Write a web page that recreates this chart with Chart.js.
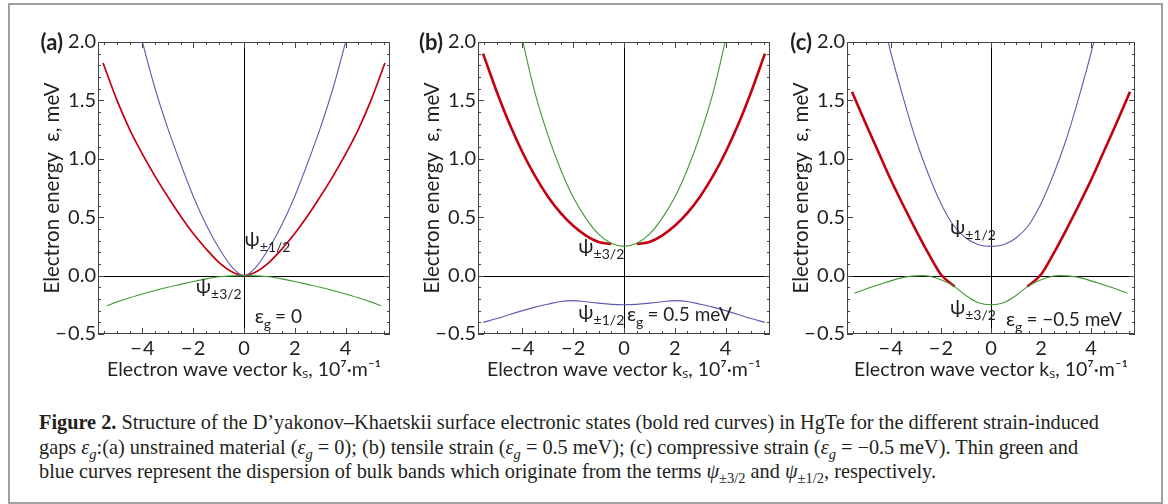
<!DOCTYPE html>
<html>
<head>
<meta charset="utf-8">
<script src="https://cdn.jsdelivr.net/npm/chart.js@4.4.0/dist/chart.umd.min.js"></script>
<style>
  html, body { margin: 0; padding: 0; background: #fff; }
  body { width: 1168px; height: 504px; position: relative; overflow: hidden; }
  #frame { position: absolute; left: 8px; top: 3px; width: 1151px; height: 497px; border: 2px solid #a0a0a0; }
  canvas { position: absolute; }
  #caption { position: absolute; left: 39px; top: 410px; font-family: "Liberation Serif", serif; font-size: 20.3px; line-height: 24.5px; color: #231f20; white-space: nowrap; }
  #caption i { font-family: "Liberation Serif", serif; }
  #caption sub { font-size: 14.5px; line-height: 0; }
</style>
</head>
<body>
<div id="frame"></div>
<canvas id="chartA" width="378" height="368" style="left:20px;top:22px"></canvas>
<canvas id="chartB" width="378" height="368" style="left:400px;top:22px"></canvas>
<canvas id="chartC" width="374" height="368" style="left:769px;top:22px"></canvas>
<div id="caption">
<b>Figure 2.</b> Structure of the D’yakonov–Khaetskii surface electronic states (bold red curves) in HgTe for the different strain-induced<br>
gaps <i>ε<sub>g</sub></i>:(a) unstrained material (<i>ε<sub>g</sub></i> = 0); (b) tensile strain (<i>ε<sub>g</sub></i> = 0.5 meV); (c) compressive strain (<i>ε<sub>g</sub></i> = −0.5 meV). Thin green and<br>
blue curves represent the dispersion of bulk bands which originate from the terms <i>ψ</i><sub>±3/2</sub> and <i>ψ</i><sub>±1/2</sub>, respectively.
</div>

<script>
// valores (k en 10^7 m^-1, energía en meV)

const xTicks = [-4, -2, 0, 2, 4];
const yTicks = [-0.5, 0, 0.5, 1, 1.5, 2];
const xMinor = [-5.5, -5, -4.5, -3.5, -3, -2.5, -1.5, -1, -0.5, 0.5, 1, 1.5, 2.5, 3, 3.5, 4.5, 5, 5.5];
const yMinor = [-0.4, -0.3, -0.2, -0.1, 0.1, 0.2, 0.3, 0.4, 0.6, 0.7, 0.8, 0.9, 1.1, 1.2, 1.3, 1.4, 1.6, 1.7, 1.8, 1.9];

// (a) eg = 0
const kRedA = [-5.55, -5, -4.5, -4, -3.5, -3, -2.5, -2, -1.5, -1, -0.5, 0, 0.5, 1, 1.5, 2, 2.5, 3, 3.5, 4, 4.5, 5, 5.55];
const eRedA = [1.82, 1.5, 1.25, 1.04, 0.85, 0.675, 0.51, 0.36, 0.23, 0.115, 0.035, 0, 0.035, 0.115, 0.23, 0.36, 0.51, 0.675, 0.85, 1.04, 1.25, 1.5, 1.82];
const kBlueA = [-4.5, -4, -3.5, -3, -2.5, -2, -1.5, -1, -0.5, 0, 0.5, 1, 1.5, 2, 2.5, 3, 3.5, 4, 4.5];
const eBlueA = [2.45, 2.0, 1.6, 1.26, 0.96, 0.68, 0.44, 0.24, 0.08, 0, 0.08, 0.24, 0.44, 0.68, 0.96, 1.26, 1.6, 2.0, 2.45];
const kGreenA = [-5.4, -5, -4.5, -4, -3.5, -3, -2.5, -2, -1.5, -1, -0.5, 0, 0.5, 1, 1.5, 2, 2.5, 3, 3.5, 4, 4.5, 5, 5.4];
const eGreenA = [-0.258, -0.225, -0.19, -0.157, -0.128, -0.1, -0.075, -0.05, -0.028, -0.01, -0.002, 0, -0.002, -0.01, -0.028, -0.05, -0.075, -0.1, -0.128, -0.157, -0.19, -0.225, -0.258];

// (b) eg = 0.5 meV
const kRedB = [-5.55, -5, -4.5, -4, -3.5, -3, -2.5, -2, -1.5, -1, -0.5, 0, 0.5, 1, 1.5, 2, 2.5, 3, 3.5, 4, 4.5, 5, 5.55];
const eRedB = [1.9, 1.568, 1.295, 1.056, 0.851, 0.678, 0.537, 0.426, 0.343, 0.288, 0.27, null, 0.27, 0.288, 0.343, 0.426, 0.537, 0.678, 0.851, 1.056, 1.295, 1.568, 1.9];
const kGreenB = [-4.5, -4, -3.5, -3, -2.5, -2, -1.5, -1, -0.5, 0, 0.5, 1, 1.5, 2, 2.5, 3, 3.5, 4, 4.5];
const eGreenB = [2.55, 2.02, 1.56, 1.205, 0.91, 0.67, 0.49, 0.355, 0.276, 0.25, 0.276, 0.355, 0.49, 0.67, 0.91, 1.205, 1.56, 2.02, 2.55];
const kBlueB = [-5.55, -5, -4.5, -4, -3.5, -3, -2.5, -2, -1.5, -1, -0.5, 0, 0.5, 1, 1.5, 2, 2.5, 3, 3.5, 4, 4.5, 5, 5.55];
const eBlueB = [-0.4, -0.368, -0.333, -0.3, -0.27, -0.245, -0.222, -0.214, -0.224, -0.236, -0.246, -0.25, -0.246, -0.236, -0.224, -0.214, -0.222, -0.245, -0.27, -0.3, -0.333, -0.368, -0.4];

// (c) eg = -0.5 meV
const kRedC = [-5.55, -5, -4.5, -4, -3.5, -3, -2.5, -2, -1.45, 0, 1.45, 2, 2.5, 3, 3.5, 4, 4.5, 5, 5.55];
const eRedC = [1.575, 1.3, 1.06, 0.82, 0.6, 0.39, 0.19, 0.01, -0.094, null, -0.094, 0.01, 0.19, 0.39, 0.6, 0.82, 1.06, 1.3, 1.575];
const kGreenC = [-5.45, -5, -4.5, -4, -3.5, -3, -2.75, -2.5, -2, -1.5, -1, -0.5, 0, 0.5, 1, 1.5, 2, 2.5, 2.75, 3, 3.5, 4, 4.5, 5, 5.45];
const eGreenC = [-0.151, -0.115, -0.08, -0.045, -0.015, -0.002, 0, -0.004, -0.035, -0.088, -0.17, -0.232, -0.25, -0.232, -0.17, -0.088, -0.035, -0.004, 0, -0.002, -0.015, -0.045, -0.08, -0.115, -0.151];
const kBlueC = [-4.5, -4, -3.5, -3, -2.5, -2, -1.5, -1, -0.5, 0, 0.5, 1, 1.5, 2, 2.5, 3, 3.5, 4, 4.5];
const eBlueC = [2.35, 1.91, 1.52, 1.163, 0.868, 0.618, 0.431, 0.322, 0.265, 0.25, 0.265, 0.322, 0.431, 0.618, 0.868, 1.163, 1.52, 1.91, 2.35];

const FONT = 'Lato, "Open Sans", sans-serif';
const INK = '#231f20';
const RED = '#c20010';
const BLUE = '#5c5cb4';
const GREEN = '#3f9a30';

let toPoints = (ks, es) => ks.map((k, i) => ({ x: k, y: es[i] }));

let curve = (ks, es, color, width) => ({
  data: toPoints(ks, es),
  borderColor: color,
  borderWidth: width,
  pointRadius: 0,
  showLine: true,
  fill: false,
  spanGaps: false,
  cubicInterpolationMode: 'monotone',
});

let minus = (s) => s.replace('-', '\u2212\u200a');

// Marco con marcas hacia adentro, ejes en cero, etiquetas de texto

const framePlugin = {
  id: 'marco',
  beforeDatasetsDraw(chart) {
    const { ctx, chartArea: a, scales } = chart;
    const sx = scales.x, sy = scales.y;
    ctx.save();
    ctx.strokeStyle = '#000';
    ctx.lineWidth = 1;
    const x0 = Math.round(sx.getPixelForValue(0)) + 0.5;
    const y0 = Math.round(sy.getPixelForValue(0)) + 0.5;
    ctx.beginPath();
    ctx.moveTo(x0, a.top); ctx.lineTo(x0, a.bottom);
    ctx.moveTo(a.left, y0); ctx.lineTo(a.right, y0);
    ctx.stroke();
    ctx.restore();
  },
  afterDatasetsDraw(chart, args, opts) {
    const { ctx, chartArea: a, scales } = chart;
    const sx = scales.x, sy = scales.y;
    ctx.save();
    ctx.strokeStyle = '#444';
    ctx.lineWidth = 1;
    ctx.strokeRect(Math.round(a.left) + 0.5, Math.round(a.top) + 0.5, Math.round(a.right - a.left) - 1, Math.round(a.bottom - a.top) - 1);
    ctx.beginPath();
    const tickX = (v, len) => {
      const p = Math.round(sx.getPixelForValue(v)) + 0.5;
      ctx.moveTo(p, a.bottom); ctx.lineTo(p, a.bottom - len);
      ctx.moveTo(p, a.top); ctx.lineTo(p, a.top + len);
    };
    const tickY = (v, len) => {
      const p = Math.round(sy.getPixelForValue(v)) + 0.5;
      ctx.moveTo(a.left, p); ctx.lineTo(a.left + len, p);
      ctx.moveTo(a.right, p); ctx.lineTo(a.right - len, p);
    };
    xTicks.forEach((v) => tickX(v, 6));
    xMinor.forEach((v) => tickX(v, 3));
    yTicks.forEach((v) => tickY(v, 6));
    yMinor.forEach((v) => tickY(v, 3));
    ctx.stroke();

    // letra del panel
    ctx.fillStyle = INK;
    ctx.font = 'bold 22px ' + FONT;
    ctx.textAlign = 'right';
    ctx.textBaseline = 'middle';
    ctx.fillText(opts.letter, a.left - 35, a.top + 1);

    // rótulos psi y eg
    ctx.textAlign = 'left';
    ctx.textBaseline = 'alphabetic';
    opts.notes.forEach((n) => {
      const px = sx.getPixelForValue(n.k);
      const py = sy.getPixelForValue(n.e);
      ctx.font = '20px ' + FONT;
      ctx.fillText(n.main, px, py);
      let w = ctx.measureText(n.main).width;
      ctx.font = '14px ' + FONT;
      ctx.fillText(n.sub, px + w, py + 6);
      w += ctx.measureText(n.sub).width;
      if (n.rest) {
        ctx.font = '19px ' + FONT;
        ctx.fillText(n.rest, px + w + 4, py);
      }
    });
    ctx.restore();
  },
};

let makePanel = (id, datasets, letter, notes) => {
  new Chart(document.getElementById(id), {
    type: 'scatter',
    data: { datasets: datasets },
    plugins: [framePlugin],
    options: {
      responsive: false,
      animation: false,
      layout: { padding: { top: 20, right: 8, left: 0, bottom: 0 } },
      plugins: {
        legend: { display: false },
        tooltip: { enabled: false },
        marco: { letter: letter, notes: notes },
      },
      scales: {
        x: {
          type: 'linear',
          min: -5.75,
          max: 5.75,
          afterBuildTicks: (s) => { s.ticks = xTicks.map((v) => ({ value: v })); },
          afterFit: (s) => { s.height = 56; },
          grid: { display: false, drawTicks: false },
          border: { display: false },
          ticks: { padding: 3, color: INK, font: { family: FONT, size: 20 }, callback: (v) => minus(String(v)) },
          title: { display: true, text: 'Electron wave vector kₛ, 10⁷·m⁻¹', color: INK, font: { family: FONT, size: 19.5 }, padding: { top: 0, bottom: 9 } },
        },
        y: {
          type: 'linear',
          min: -0.5,
          max: 2,
          afterBuildTicks: (s) => { s.ticks = yTicks.map((v) => ({ value: v })); },
          afterFit: (s) => { s.width = 78; },
          grid: { display: false, drawTicks: false },
          border: { display: false },
          ticks: { padding: 2, color: INK, font: { family: FONT, size: 20 }, callback: (v) => minus(v.toFixed(1)) },
          title: { display: true, text: 'Electron energy  ε, meV', color: INK, font: { family: FONT, size: 20.5 }, padding: { top: 20, bottom: 0 } },
        },
      },
    },
  });
};

makePanel('chartA', [
  curve(kGreenA, eGreenA, GREEN, 1.1),
  curve(kBlueA, eBlueA, BLUE, 1.1),
  curve(kRedA, eRedA, RED, 1.7),
], '(a)', [
  { k: 0.02, e: 0.25, main: 'ψ', sub: '±1/2' },
  { k: -1.9, e: -0.15, main: 'ψ', sub: '±3/2' },
  { k: 0.42, e: -0.41, main: 'ε', sub: 'g', rest: '= 0' },
]);

makePanel('chartB', [
  curve(kBlueB, eBlueB, BLUE, 1.1),
  curve(kGreenB, eGreenB, GREEN, 1.1),
  curve(kRedB, eRedB, RED, 2.6),
], '(b)', [
  { k: -1.8, e: 0.19, main: 'ψ', sub: '±3/2' },
  { k: -1.8, e: -0.37, main: 'ψ', sub: '±1/2' },
  { k: 0.12, e: -0.39, main: 'ε', sub: 'g', rest: '= 0.5 meV' },
]);

makePanel('chartC', [
  curve(kBlueC, eBlueC, BLUE, 1.1),
  curve(kGreenC, eGreenC, GREEN, 1.1),
  curve(kRedC, eRedC, RED, 2.6),
], '(c)', [
  { k: -1.64, e: 0.355, main: 'ψ', sub: '±1/2' },
  { k: -1.64, e: -0.33, main: 'ψ', sub: '±3/2' },
  { k: 0.6, e: -0.43, main: 'ε', sub: 'g', rest: '= \u22120.5 meV' },
]);
</script>
</body>
</html>
